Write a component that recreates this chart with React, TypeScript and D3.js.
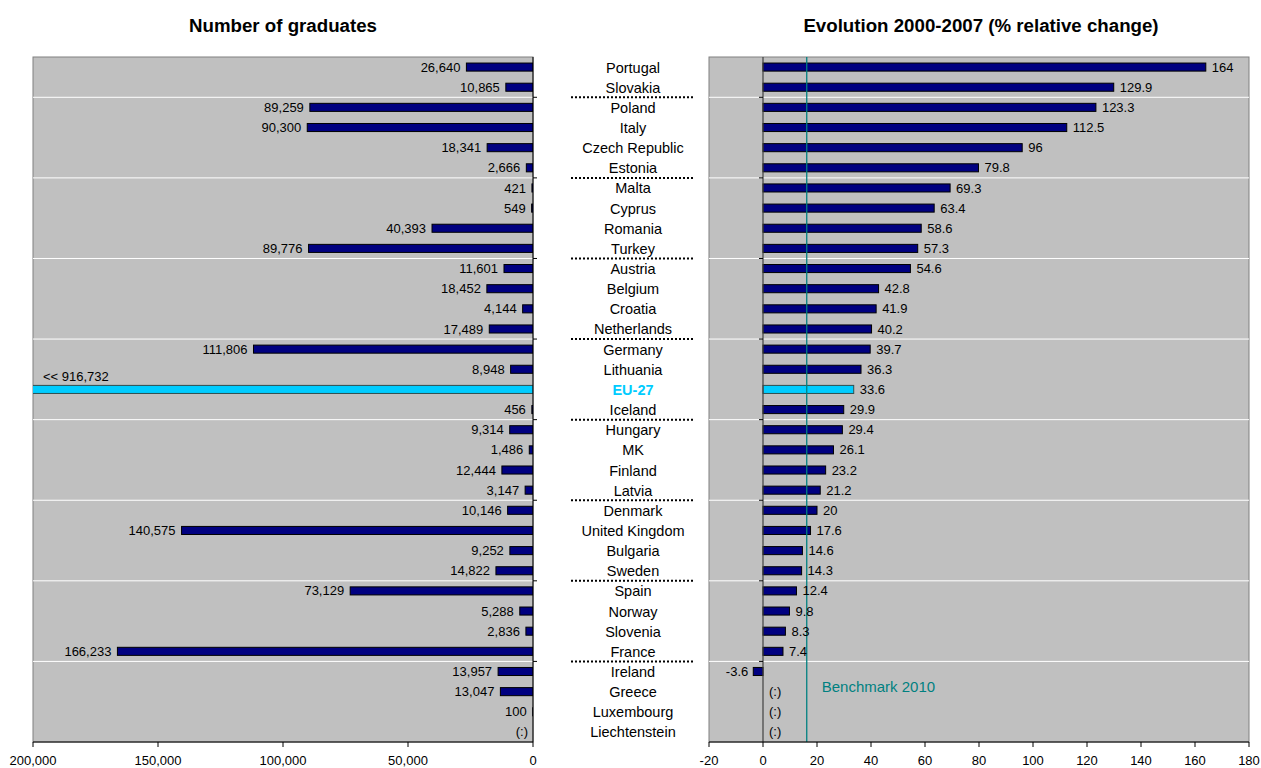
import React from "react";
import * as d3 from "d3";

const countries = [
  "Portugal", "Slovakia", "Poland", "Italy", "Czech Republic", "Estonia",
  "Malta", "Cyprus", "Romania", "Turkey", "Austria", "Belgium", "Croatia",
  "Netherlands", "Germany", "Lithuania", "EU-27", "Iceland", "Hungary", "MK",
  "Finland", "Latvia", "Denmark", "United Kingdom", "Bulgaria", "Sweden",
  "Spain", "Norway", "Slovenia", "France", "Ireland", "Greece", "Luxembourg",
  "Liechtenstein",
];

const graduates: (number | null)[] = [
  26640, 10865, 89259, 90300, 18341, 2666, 421, 549, 40393, 89776, 11601,
  18452, 4144, 17489, 111806, 8948, 916732, 456, 9314, 1486, 12444, 3147,
  10146, 140575, 9252, 14822, 73129, 5288, 2836, 166233, 13957, 13047, 100,
  null,
];

const evolution: (number | null)[] = [
  164, 129.9, 123.3, 112.5, 96, 79.8, 69.3, 63.4, 58.6, 57.3, 54.6, 42.8,
  41.9, 40.2, 39.7, 36.3, 33.6, 29.9, 29.4, 26.1, 23.2, 21.2, 20, 17.6, 14.6,
  14.3, 12.4, 9.8, 8.3, 7.4, -3.6, null, null, null,
];

const leftTicks = [200000, 150000, 100000, 50000, 0];
const rightTicks = [-20, 0, 20, 40, 60, 80, 100, 120, 140, 160, 180];
const benchmark = 16.2;
const highlight = "EU-27";

const FONT = "Arial, 'Liberation Sans', Helvetica, sans-serif";
const W = 1261;
const H = 768;
const TOP = 57;
const BOTTOM = 742;

export default function App() {
  const y = d3
    .scaleBand<string>()
    .domain(countries)
    .range([TOP, BOTTOM])
    .paddingInner(0.6)
    .paddingOuter(0.3);
  const step = y.step();
  const xl = d3.scaleLinear().domain([200000, 0]).range([33, 533]);
  const xr = d3.scaleLinear().domain([-20, 180]).range([709, 1249]);
  const fmt = d3.format(",");

  const boundaries = d3
    .range(1, countries.length)
    .filter((i) => i % 4 === 2)
    .map((i) => TOP + i * step);

  const cy = (c: string) => (y(c) as number) + y.bandwidth() / 2;

  return (
    <svg
      width={W}
      height={H}
      style={{ position: "absolute", left: 0, top: 0, background: "#fff" }}
      fontFamily={FONT}
    >
      <defs>
        <clipPath id="clipL">
          <rect x={33} y={TOP} width={500} height={BOTTOM - TOP} />
        </clipPath>
      </defs>
      {/* titles */}
      <text x={283} y={32} textAnchor="middle" fontWeight="bold" fontSize={18.7}>
        Number of graduates
      </text>
      <text x={981} y={32} textAnchor="middle" fontWeight="bold" fontSize={18.7}>
        Evolution 2000-2007 (% relative change)
      </text>

      {/* LEFT PANEL */}
      <rect x={33} y={TOP} width={500} height={BOTTOM - TOP} fill="#C0C0C0" stroke="#808080" />
      {boundaries.map((b, i) => (
        <line key={"gl" + i} x1={33} x2={533} y1={b} y2={b} stroke="#fff" strokeWidth={1} />
      ))}
      <g clipPath="url(#clipL)">
        {countries.map((c, i) => {
          const v = graduates[i];
          if (v === null) return null;
          const hi = c === highlight;
          return (
            <rect
              key={"bl" + c}
              x={xl(v)}
              y={y(c)}
              width={xl(0) - xl(v)}
              height={y.bandwidth()}
              fill={hi ? "#00CCFF" : "#000080"}
              stroke={hi ? "#2F4F4F" : "#000"}
              strokeWidth={1}
            />
          );
        })}
      </g>
      {countries.map((c, i) => {
        const v = graduates[i];
        if (c === highlight) {
          return (
            <text key={"ll" + c} x={43} y={cy(c) - 8} fontSize={13}>
              {"<< " + fmt(v as number)}
            </text>
          );
        }
        const x = v === null ? xl(0) - 5 : xl(v) - 6;
        return (
          <text key={"ll" + c} x={x} y={cy(c)} dy="0.35em" textAnchor="end" fontSize={13}>
            {v === null ? "(:)" : fmt(v)}
          </text>
        );
      })}
      {/* left axes */}
      <line x1={533} x2={533} y1={TOP} y2={BOTTOM} stroke="#000" />
      {boundaries.map((b, i) => (
        <line key={"lt" + i} x1={533} x2={537} y1={b} y2={b} stroke="#000" />
      ))}
      <line x1={33} x2={533} y1={BOTTOM} y2={BOTTOM} stroke="#000" />
      {leftTicks.map((t) => (
        <g key={"lx" + t}>
          <line x1={xl(t)} x2={xl(t)} y1={BOTTOM} y2={BOTTOM + 5} stroke="#000" />
          <text x={xl(t)} y={760} dy="0.35em" textAnchor="middle" fontSize={13}>
            {fmt(t)}
          </text>
        </g>
      ))}

      {/* MIDDLE LABELS */}
      {countries.map((c) => (
        <text
          key={"c" + c}
          x={633}
          y={cy(c)}
          dy="0.38em"
          textAnchor="middle"
          fontSize={14.5}
          fontWeight={c === highlight ? "bold" : "normal"}
          fill={c === highlight ? "#00CCFF" : "#000"}
        >
          {c}
        </text>
      ))}
      {boundaries.map((b, i) => (
        <line
          key={"dl" + i}
          x1={571}
          x2={693}
          y1={b}
          y2={b}
          stroke="#000"
          strokeWidth={2}
          strokeDasharray="2,2"
        />
      ))}

      {/* RIGHT PANEL */}
      <rect x={709} y={TOP} width={540} height={BOTTOM - TOP} fill="#C0C0C0" stroke="#808080" />
      {boundaries.map((b, i) => (
        <line key={"gr" + i} x1={709} x2={1249} y1={b} y2={b} stroke="#fff" strokeWidth={1} />
      ))}
      {countries.map((c, i) => {
        const v = evolution[i];
        if (v === null) return null;
        const hi = c === highlight;
        return (
          <rect
            key={"br" + c}
            x={Math.min(xr(0), xr(v))}
            y={y(c)}
            width={Math.abs(xr(v) - xr(0))}
            height={y.bandwidth()}
            fill={hi ? "#00CCFF" : "#000080"}
            stroke={hi ? "#2F4F4F" : "#000"}
            strokeWidth={1}
          />
        );
      })}
      <line x1={xr(0)} x2={xr(0)} y1={TOP} y2={BOTTOM} stroke="#404040" strokeWidth={1.2} />
      {boundaries.map((b, i) => (
        <line key={"rt" + i} x1={xr(0) - 4} x2={xr(0)} y1={b} y2={b} stroke="#000" />
      ))}
      <line
        x1={xr(benchmark)}
        x2={xr(benchmark)}
        y1={TOP}
        y2={BOTTOM}
        stroke="#008080"
        strokeWidth={1.3}
      />
      <text x={xr(benchmark) + 15} y={687} dy="0.35em" fontSize={15} fill="#008080">
        Benchmark 2010
      </text>
      {countries.map((c, i) => {
        const v = evolution[i];
        if (v === null) {
          return (
            <text key={"rl" + c} x={xr(0) + 6} y={cy(c)} dy="0.35em" fontSize={13}>
              (:)
            </text>
          );
        }
        const neg = v < 0;
        return (
          <text
            key={"rl" + c}
            x={neg ? xr(v) - 5 : xr(v) + 6}
            y={cy(c)}
            dy="0.35em"
            textAnchor={neg ? "end" : "start"}
            fontSize={13}
          >
            {String(v)}
          </text>
        );
      })}
      <line x1={709} x2={1249} y1={BOTTOM} y2={BOTTOM} stroke="#000" />
      {rightTicks.map((t) => (
        <g key={"rx" + t}>
          <line x1={xr(t)} x2={xr(t)} y1={BOTTOM} y2={BOTTOM + 5} stroke="#000" />
          <text x={xr(t)} y={760} dy="0.35em" textAnchor="middle" fontSize={13}>
            {String(t)}
          </text>
        </g>
      ))}
    </svg>
  );
}
